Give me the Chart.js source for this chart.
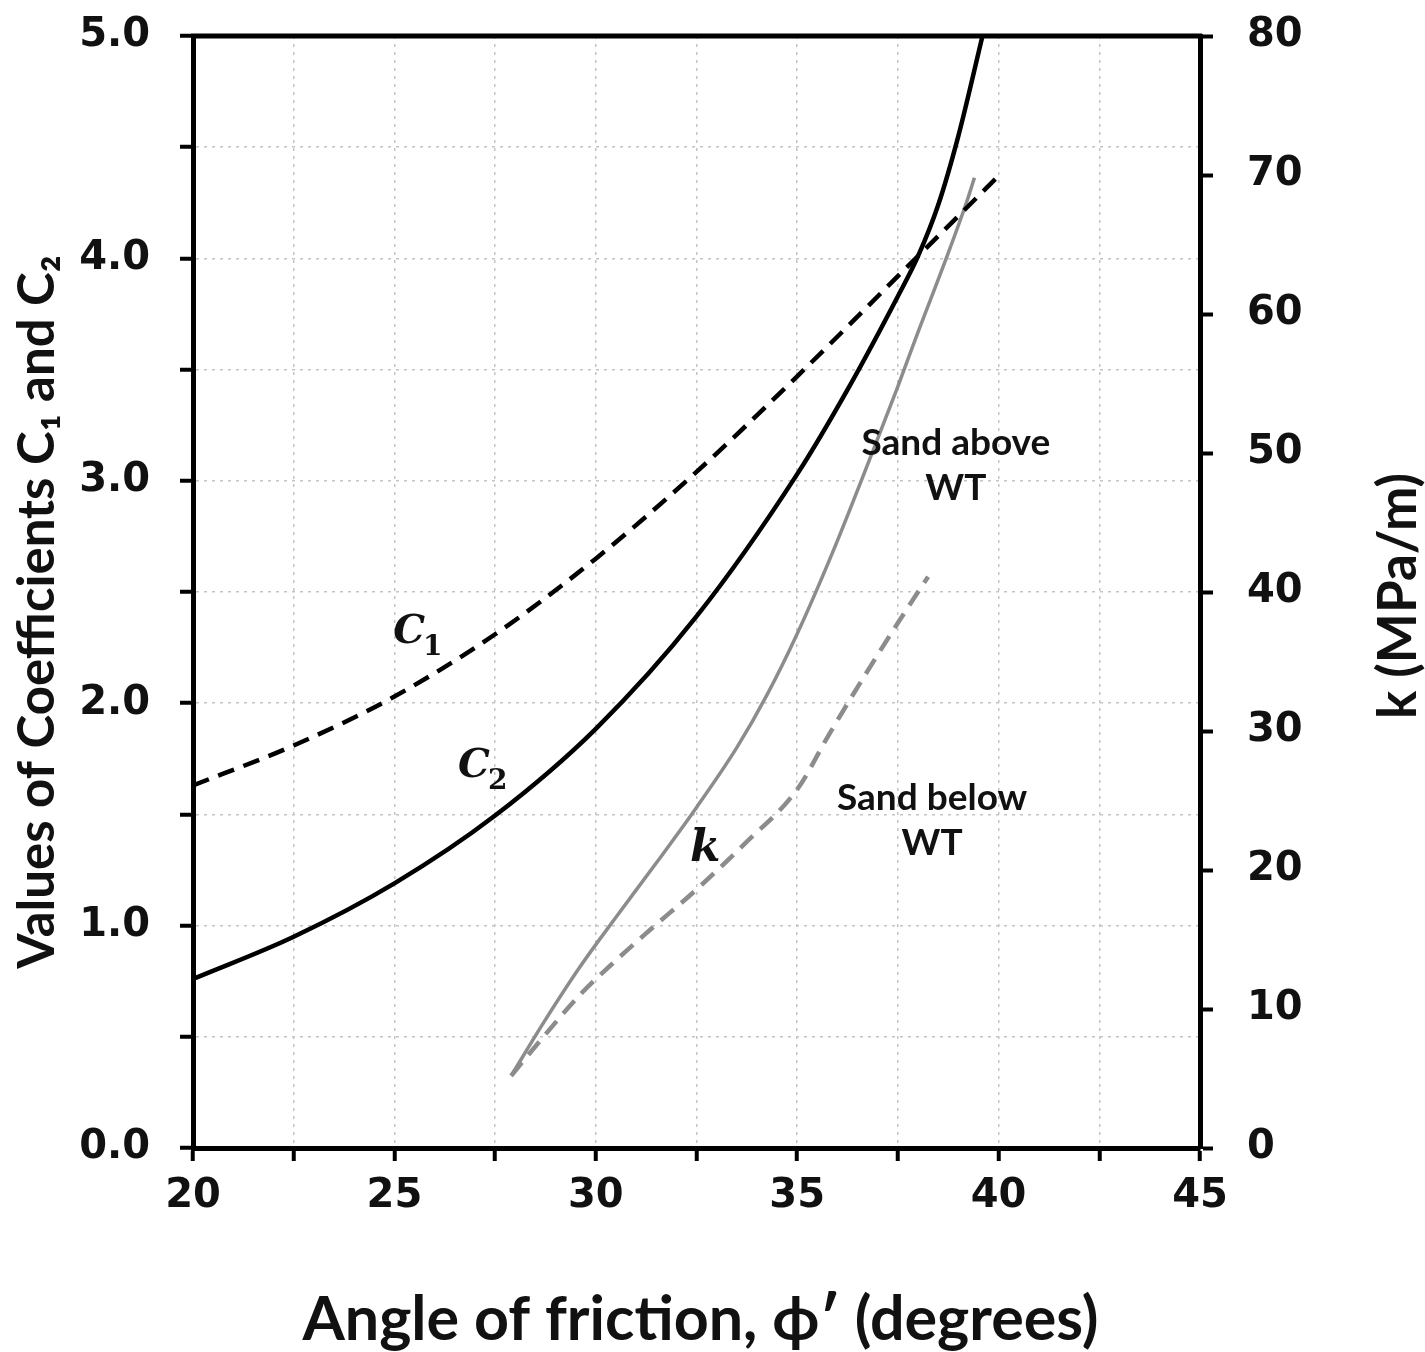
<!DOCTYPE html>
<html>
<head>
<meta charset="utf-8">
<script src="https://cdn.jsdelivr.net/npm/chart.js@4.4.1/dist/chart.umd.min.js"></script>
<style>
html,body{margin:0;padding:0;background:#fff;}
#wrap{width:1425px;height:1352px;position:relative;}
</style>
</head>
<body>
<div id="wrap"><canvas id="c"></canvas></div>
<script>
// ---- Data ----
const c1Phi   = [20, 22.5, 25, 27.5, 30, 32.5, 35, 37.5, 40.05];
const c1Value = [1.63, 1.81, 2.03, 2.31, 2.65, 3.04, 3.47, 3.92, 4.38];

const c2Phi   = [20, 22.5, 25, 27.5, 30, 32.5, 35, 36.25, 37.5, 38.0, 38.5, 39.0, 39.6];
const c2Value = [0.76, 0.95, 1.19, 1.495, 1.885, 2.39, 3.03, 3.41, 3.83, 4.01, 4.24, 4.55, 5.0];

const kAbovePhi   = [27.9, 28.7, 29.6, 30.5, 31.5, 32.5, 33.5, 34.25, 35.0, 35.9, 36.9, 37.5, 38.0, 38.7, 39.2, 39.4];
const kAboveValue = [5.2, 9.0, 13.0, 16.6, 20.5, 24.5, 28.8, 32.6, 37.0, 43.0, 50.3, 54.8, 58.7, 64.0, 68.0, 69.8];

const kBelowPhi   = [27.9, 28.7, 29.6, 30.5, 31.35, 32.5, 33.7, 35.0, 35.8, 36.7, 37.55, 38.25];
const kBelowValue = [5.2, 8.0, 11.0, 13.5, 15.7, 18.6, 21.9, 25.8, 29.8, 34.1, 38.0, 41.1];

const xTickLabels  = [20, 25, 30, 35, 40, 45];
const yTickLabels  = [0, 1, 2, 3, 4, 5];
const y2TickLabels = [0, 10, 20, 30, 40, 50, 60, 70, 80];

const xTitle  = 'Angle of friction, \u03D5\u2032 (degrees)';
const yTitle  = 'Values of Coefficients C\u2081 and C\u2082';
const y2Title = 'k (MPa/m)';

// ---- helpers ----
const pts = (xs, ys) => xs.map((x, i) => ({x: x, y: ys[i]}));
const TICKFONT = {family: 'DejaVu Sans', weight: 'bold', size: 40};
const GRIDCOL = '#c4c4c4';

const annotations = [
  {type: 'sub', main: 'C', sub: '1', x: 24.97, y: 2.27},
  {type: 'sub', main: 'C', sub: '2', x: 26.58, y: 1.67},
  {type: 'k', main: 'k', x: 32.34, y: 1.29},
  {type: 'txt', lines: ['Sand above', 'WT'], x: 38.94, y: 3.17},
  {type: 'txt', lines: ['Sand below', 'WT'], x: 38.35, y: 1.574}
];

const decor = {
  id: 'decor',
  afterDraw(chart) {
    const ctx = chart.ctx;
    const a = chart.chartArea;
    const xs = chart.scales.x, ys = chart.scales.y;
    ctx.save();
    // top frame line
    ctx.strokeStyle = '#000';
    ctx.lineWidth = 5;
    ctx.beginPath();
    ctx.moveTo(a.left - 2, a.top);
    ctx.lineTo(a.right + 2, a.top);
    ctx.stroke();

    ctx.fillStyle = '#111';
    annotations.forEach(an => {
      const px = xs.getPixelForValue(an.x);
      const py = ys.getPixelForValue(an.y);
      if (an.type === 'sub') {
        ctx.font = 'italic bold 40px "DejaVu Serif"';
        ctx.textAlign = 'left';
        ctx.textBaseline = 'alphabetic';
        ctx.fillText(an.main, px, py);
        const w = ctx.measureText(an.main).width;
        ctx.font = 'bold 28px "DejaVu Serif"';
        ctx.fillText(an.sub, px + w - 2, py + 12);
      } else if (an.type === 'k') {
        ctx.font = 'italic bold 44px "DejaVu Serif"';
        ctx.textAlign = 'left';
        ctx.textBaseline = 'alphabetic';
        ctx.fillText(an.main, px, py);
      } else {
        ctx.font = 'bold 37px Lato';
        ctx.textAlign = 'center';
        ctx.textBaseline = 'middle';
        ctx.fillText(an.lines[0], px, py);
        ctx.fillText(an.lines[1], px, py + 45);
      }
    });

    // axis titles
    const cx = (a.left + a.right) / 2;
    ctx.font = 'bold 61px Lato';
    ctx.textAlign = 'center';
    ctx.textBaseline = 'middle';
    ctx.fillText(xTitle, cx + 4, 1320);

    ctx.save();
    ctx.translate(38, 612);
    ctx.rotate(-Math.PI / 2);
    ctx.font = 'bold 51px Lato';
    ctx.fillText(yTitle, 0, 0);
    ctx.restore();

    ctx.save();
    ctx.translate(1399, 596);
    ctx.rotate(-Math.PI / 2);
    ctx.font = 'bold 53px Lato';
    ctx.fillText(y2Title, 0, 0);
    ctx.restore();
    ctx.restore();
  }
};

const zeroPad = s => { s.paddingTop = 0; s.paddingBottom = 0; s.paddingLeft = 0; s.paddingRight = 0; };

new Chart(document.getElementById('c'), {
  type: 'line',
  data: {
    datasets: [
      {label: 'C1', data: pts(c1Phi, c1Value), yAxisID: 'y', borderColor: '#000', borderWidth: 4.5,
       borderDash: [17, 10], pointRadius: 0, cubicInterpolationMode: 'monotone', fill: false},
      {label: 'C2', data: pts(c2Phi, c2Value), yAxisID: 'y', borderColor: '#000', borderWidth: 4.5,
       pointRadius: 0, cubicInterpolationMode: 'monotone', fill: false},
      {label: 'k above WT', data: pts(kAbovePhi, kAboveValue), yAxisID: 'y2', borderColor: '#8c8c8c', borderWidth: 3.5,
       pointRadius: 0, cubicInterpolationMode: 'monotone', fill: false},
      {label: 'k below WT', data: pts(kBelowPhi, kBelowValue), yAxisID: 'y2', borderColor: '#8c8c8c', borderWidth: 4.5,
       borderDash: [17, 10], pointRadius: 0, cubicInterpolationMode: 'monotone', fill: false}
    ]
  },
  options: {
    responsive: true,
    maintainAspectRatio: false,
    animation: false,
    layout: {padding: {top: 36, left: 0, right: 0, bottom: 0}},
    plugins: {legend: {display: false}, tooltip: {enabled: false}},
    scales: {
      x: {
        type: 'linear', position: 'bottom', min: 20, max: 45,
        afterFit(s) { s.height = 204; zeroPad(s); },
        afterBuildTicks(s) {
          const t = [];
          for (let v = 20; v <= 45.001; v += 2.5) t.push({value: v});
          s.ticks = t;
        },
        ticks: {
          autoSkip: false, maxRotation: 0, padding: 12, color: '#111', font: TICKFONT,
          callback: v => xTickLabels.includes(v) ? String(v) : ''
        },
        grid: {color: GRIDCOL, lineWidth: 1.5, tickLength: 13, tickColor: '#000', tickWidth: 4},
        border: {display: true, color: '#000', width: 5, dash: [3, 5]},
        title: {display: false}
      },
      y: {
        type: 'linear', position: 'left', min: 0, max: 5,
        afterFit(s) { s.width = 193; zeroPad(s); },
        afterBuildTicks(s) {
          const t = [];
          for (let i = 0; i <= 10; i++) t.push({value: i / 2});
          s.ticks = t;
        },
        ticks: {
          autoSkip: false, padding: 30, color: '#111', font: TICKFONT,
          callback: v => yTickLabels.includes(v) ? v.toFixed(1) : ''
        },
        grid: {color: GRIDCOL, lineWidth: 1.5, tickLength: 13, tickColor: '#000', tickWidth: 4},
        border: {display: true, color: '#000', width: 5, dash: [3, 5]},
        title: {display: false}
      },
      y2: {
        type: 'linear', position: 'right', min: 0, max: 80,
        afterFit(s) { s.width = 225; zeroPad(s); },
        afterBuildTicks(s) {
          s.ticks = y2TickLabels.map(v => ({value: v}));
        },
        ticks: {autoSkip: false, padding: 34, color: '#111', font: TICKFONT, callback: v => String(v)},
        grid: {drawOnChartArea: false, tickLength: 13, tickColor: '#000', tickWidth: 4},
        border: {display: true, color: '#000', width: 5}
      }
    }
  },
  plugins: [decor]
});
</script>
</body>
</html>
